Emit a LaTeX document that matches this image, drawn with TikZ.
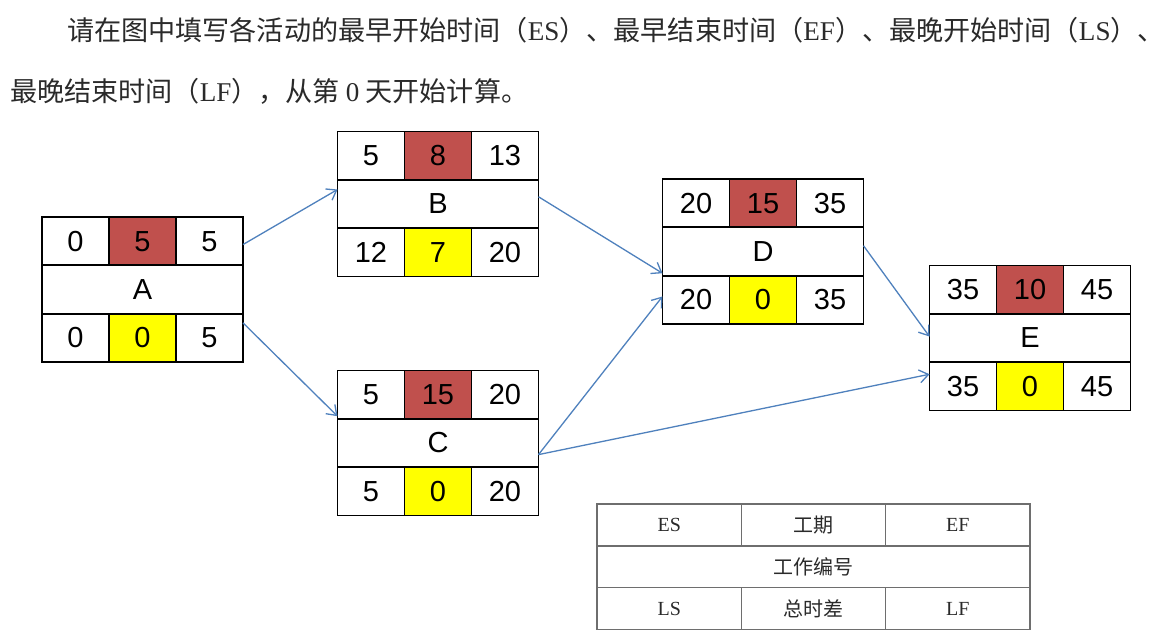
\documentclass[tikz,border=0pt]{standalone}
\usepackage{fontspec}
\setmainfont{Liberation Sans}
\newfontfamily\cjk{Noto Sans CJK SC}
\newfontfamily\serifl{Liberation Serif}
\usetikzlibrary{calc,arrows.meta}
\definecolor{durred}{HTML}{C0504D}
\definecolor{tfyellow}{HTML}{FFFF00}
\definecolor{arrowblue}{HTML}{4F81BD}
\definecolor{leggray}{HTML}{6E6E6E}
\definecolor{txtgray}{HTML}{2A2A2A}
\tikzset{
  actbox/.style={draw, line width=1.8pt, minimum width=201pt, minimum height=145pt, inner sep=0pt, outer sep=0pt},
  cell/.style={draw, line width=1.8pt, minimum width=67pt, minimum height=48.33pt, inner sep=0pt, outer sep=0pt, font=\fontsize{29}{29}\selectfont},
  midcell/.style={cell, minimum width=201pt},
  arr/.style={draw=arrowblue, line width=1.3pt, -{Straight Barb[length=9pt,width=13pt,line width=1.3pt]}},
  lcell/.style={draw=leggray, line width=1.3pt, minimum width=144.33pt, minimum height=41.8pt, inner sep=0pt, outer sep=0pt, text=txtgray},
  lwide/.style={lcell, minimum width=433pt},
  latf/.style={font=\serifl\fontsize{20}{20}\selectfont},
  cjkf/.style={font=\cjk\fontsize{20}{20}\selectfont},
  title/.style={anchor=west, inner sep=0pt, text=txtgray, font=\cjk\fontsize{27.1}{27.1}\selectfont}
}
\newcommand\actnode[9]{%
  \node[actbox] (#1) at (#2) {};
  \node[cell, anchor=north west] (#1-es) at (#1.north west) {#3};
  \node[cell, fill=durred, anchor=north] (#1-d) at (#1.north) {#4};
  \node[cell, anchor=north east] (#1-ef) at (#1.north east) {#5};
  \node[midcell] (#1-n) at (#1.center) {#6};
  \node[cell, anchor=south west] (#1-ls) at (#1.south west) {#7};
  \node[cell, fill=tfyellow, anchor=south] (#1-tf) at (#1.south) {#8};
  \node[cell, anchor=south east] (#1-lf) at (#1.south east) {#9};
}
\begin{document}
\begin{tikzpicture}[x=1pt, y=-1pt]
\useasboundingbox[fill=white] (0,0) rectangle (1163,633);

% title
\node[title] (t1) at (67,30) {请在图中填写各活动的最早开始时间（{\serifl ES}）、最早结束时间（{\serifl EF}）、最晚开始时间（{\serifl LS}）、};
\node[title] (t2) at (10,91) {最晚结束时间（{\serifl LF}），从第 {\serifl 0} 天开始计算。};

% activity boxes
\actnode{A}{142.5,289.5}{0}{5}{5}{A}{0}{0}{5}
\actnode{B}{438,204}{5}{8}{13}{B}{12}{7}{20}
\actnode{C}{438,443}{5}{15}{20}{C}{5}{0}{20}
\actnode{D}{763,251.5}{20}{15}{35}{D}{20}{0}{35}
\actnode{E}{1030,338}{35}{10}{45}{E}{35}{0}{45}

% connectors
\draw[arr] ($(A.north east)!0.19!(A.south east)$) -- ($(B.north west)!0.40!(B.south west)$);
\draw[arr] ($(A.north east)!0.73!(A.south east)$) -- ($(C.north west)!0.315!(C.south west)$);
\draw[arr] ($(B.north east)!0.45!(B.south east)$) -- ($(D.north west)!0.65!(D.south west)$);
\draw[arr] ($(C.north east)!0.58!(C.south east)$) -- ($(D.north west)!0.81!(D.south west)$);
\draw[arr] ($(C.north east)!0.58!(C.south east)$) -- ($(E.north west)!0.75!(E.south west)$);
\draw[arr] ($(D.north east)!0.46!(D.south east)$) -- ($(E.north west)!0.49!(E.south west)$);

% legend
\node[lcell, latf] (l-es) at (669.2,525) {ES};
\node[lcell, cjkf] (l-d) at (813.5,525) {工期};
\node[lcell, latf] (l-ef) at (957.8,525) {EF};
\node[lwide, cjkf] (l-n) at (813.5,566.8) {工作编号};
\node[lcell, latf] (l-ls) at (669.2,608.6) {LS};
\node[lcell, cjkf] (l-tf) at (813.5,608.6) {总时差};
\node[lcell, latf] (l-lf) at (957.8,608.6) {LF};
\end{tikzpicture}
\end{document}
